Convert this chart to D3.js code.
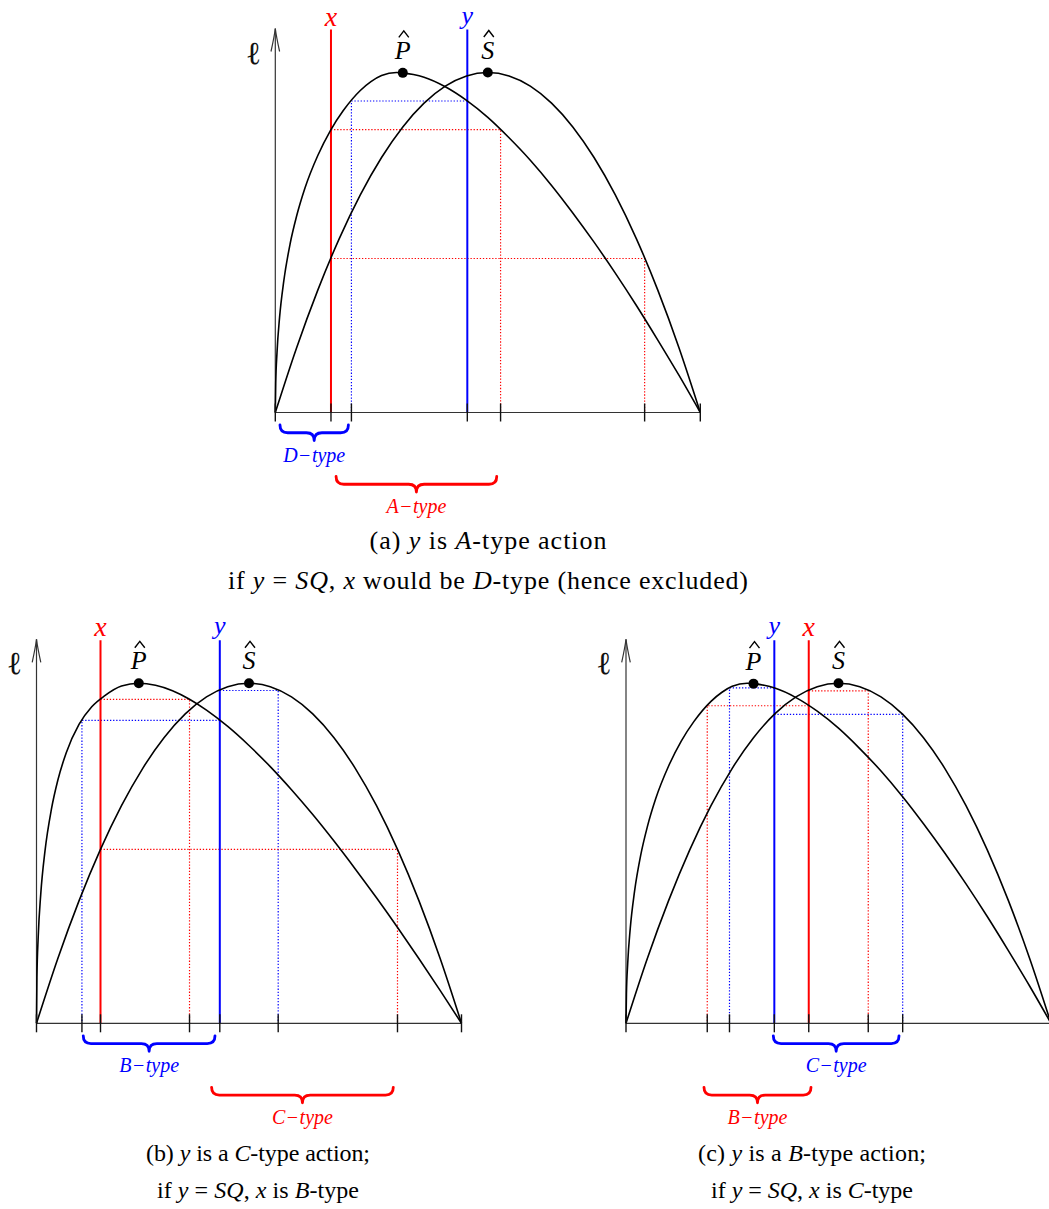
<!DOCTYPE html>
<html>
<head>
<meta charset="utf-8">
<script src="https://cdn.jsdelivr.net/npm/d3@7"></script>
<style>
  html, body { margin: 0; padding: 0; background: #fff; }
  svg { display: block; }
  text { font-family: "Liberation Serif", "DejaVu Serif", serif; }
</style>
</head>
<body>
<svg id="fig" width="1049" height="1209"></svg>
<script>
// ---- curves: [position along the action line, payoff ℓ] (both axes 0..100) ----
// P̂-curve peaking early (panels a and c)
const curvePWide = [[0,0],[0.1,8.5],[0.4,17.6],[1,27.9],[2,38.7],[3.5,49.7],[5,57.7],[7,66.1],[10,75.6],
  [13,83],[16,88.8],[20,94.7],[22.5,97.3],[25,99.1],[28.5,100],[30,99.9],[32.5,99.4],[35,98.6],[40,95.8],
  [45,91.8],[50,86.8],[55,80.8],[60,74.2],[65,66.8],[70,58.7],[75,50.1],[80,41],[85,31.4],[90,21.3],
  [95,10.9],[100,0]];
// P̂-curve peaking even earlier (panel b)
const curvePNarrow = [[0,0],[0.1,13.4],[0.4,25.4],[1,38],[2,50.7],[3.5,62.9],[5,71.4],[7,79.6],[10,87.9],
  [13,93.1],[16,96.3],[20,99.2],[24.07,100],[28,99.4],[32,97.8],[36,95.3],[40,92.1],[45,87.3],[50,81.7],
  [55,75.5],[60,68.7],[65,61.4],[70,53.6],[75,45.4],[80,36.9],[85,28.1],[90,19],[95,9.6],[100,0]];
// Ŝ-curve (same in every panel)
const curveS = [[0,0],[5,19],[10,36],[15,51],[20,64],[25,75],[30,84],[35,91],[40,96],[45,99],[50,100],
  [55,99],[60,96],[65,91],[70,84],[75,75],[80,64],[85,51],[90,36],[95,19],[100,0]];

// ideal points marked on the curves
const peakP = [30, 24.07, 30];
const peakS = [50, 50, 50];

// positions of the two actions in panels a, b, c
const actionX = [13.1, 15.06, 43.0];
const actionY = [45.18, 43.13, 34.9];

const guidesA = [["y", "P"], ["x", "P"], ["x", "S"]];
const guidesB = [["x", "P"], ["y", "P"], ["y", "S"], ["x", "S"]];
const guidesC = [["y", "P"], ["x", "P"], ["x", "S"], ["y", "S"]];

// braces under the axis: [type letter, from, to, colour key, row]
const bracesA = [["D", 1.1, 17.2, "y", 0], ["A", 14.3, 52.1, "x", 1]];
const bracesB = [["B", 11.0, 42.0, "y", 0], ["C", 41.2, 83.95, "x", 1]];
const bracesC = [["C", 34.66, 64.24, "y", 0], ["B", 18.35, 43.53, "x", 1]];

// captions: runs of [text, italic]
const captionA = [
  [["(a) ", 0], ["y", 1], [" is ", 0], ["A", 1], ["-type action", 0]],
  [["if ", 0], ["y", 1], [" = ", 0], ["SQ", 1], [", ", 0], ["x", 1], [" would be ", 0], ["D", 1], ["-type (hence excluded)", 0]]
];
const captionB = [
  [["(b) ", 0], ["y", 1], [" is a ", 0], ["C", 1], ["-type action;", 0]],
  [["if ", 0], ["y", 1], [" = ", 0], ["SQ", 1], [", ", 0], ["x", 1], [" is ", 0], ["B", 1], ["-type", 0]]
];
const captionC = [
  [["(c) ", 0], ["y", 1], [" is a ", 0], ["B", 1], ["-type action;", 0]],
  [["if ", 0], ["y", 1], [" = ", 0], ["SQ", 1], [", ", 0], ["x", 1], [" is ", 0], ["C", 1], ["-type", 0]]
];

// ---- drawing ----
const COL = { x: "#ff0000", y: "#0000ff" };
const PW = 425, PH = 340;
const svg = d3.select("#fig");

const panels = [
  { ox: 275.3, base: 412.5, P: curvePWide,   i: 0, guides: guidesA, braces: bracesA, caption: captionA,
    capX: 488, capY: [549, 589], capSize: 26, capLen: [237, 520] },
  { ox: 36.5,  base: 1023.3, P: curvePNarrow, i: 1, guides: guidesB, braces: bracesB, caption: captionB,
    capX: 258, capY: [1161, 1198], capSize: 24, capLen: [224, 202] },
  { ox: 626,   base: 1023.3, P: curvePWide,   i: 2, guides: guidesC, braces: bracesC, caption: captionC,
    capX: 812, capY: [1161, 1198], capSize: 24, capLen: [228, 202] }
];

function valueAt(curve, u) {
  for (let k = 1; k < curve.length; k++) {
    const [u0, v0] = curve[k - 1], [u1, v1] = curve[k];
    if (u >= u0 && u <= u1) return v0 + (v1 - v0) * (u - u0) / (u1 - u0);
  }
  return 0;
}
// other position where the curve reaches the same level, on the far side of its maximum
function otherCrossing(curve, u, level) {
  const top = curve.reduce((a, b) => (b[1] > a[1] ? b : a))[0];
  const right = u < top;
  for (let k = 1; k < curve.length; k++) {
    const [u0, v0] = curve[k - 1], [u1, v1] = curve[k];
    if (right ? u0 < top : u1 > top) continue;
    if ((v0 - level) * (v1 - level) <= 0 && v0 !== v1) {
      return u0 + (u1 - u0) * (level - v0) / (v1 - v0);
    }
  }
  return u;
}

function braceBelow(x1, x2, y0, amp) {
  const mid = (x1 + x2) / 2, h = amp / 2, r = Math.min(h, (x2 - x1) / 4);
  return `M${x1},${y0} Q${x1},${y0 + h} ${x1 + r},${y0 + h} L${mid - r},${y0 + h} ` +
         `Q${mid},${y0 + h} ${mid},${y0 + amp} Q${mid},${y0 + h} ${mid + r},${y0 + h} ` +
         `L${x2 - r},${y0 + h} Q${x2},${y0 + h} ${x2},${y0}`;
}

function richText(sel, runs) {
  runs.forEach(([t, it]) => {
    sel.append("tspan").text(t).attr("font-style", it ? "italic" : "normal");
  });
}

function hatLabel(g, cx, baseline, letter) {
  g.append("text").attr("x", cx).attr("y", baseline)
    .attr("text-anchor", "middle").attr("font-size", 26).attr("font-style", "italic")
    .attr("fill", "#000").text(letter);
  const hx = cx + 1;
  g.append("path")
    .attr("d", `M${hx - 5},${baseline - 21.5} L${hx},${baseline - 28} L${hx + 5},${baseline - 21.5}`)
    .attr("fill", "none").attr("stroke", "#000").attr("stroke-width", 1.4);
}

panels.forEach(p => {
  const g = svg.append("g");
  const x = d3.scaleLinear().domain([0, 100]).range([p.ox, p.ox + PW]);
  const y = d3.scaleLinear().domain([0, 100]).range([p.base, p.base - PH]);
  const curves = { P: p.P, S: curveS };
  const peaks = { P: peakP[p.i], S: peakS[p.i] };
  const act = { x: actionX[p.i], y: actionY[p.i] };
  const top = p.base - 383;

  // dotted guides
  const tickPos = [0, 100, act.x, act.y];
  p.guides.forEach(([a, c]) => {
    const u = act[a];
    const lvl = valueAt(curves[c], u);
    const u2 = otherCrossing(curves[c], u, lvl);
    tickPos.push(u2);
    g.append("path")
      .attr("d", `M${x(u)},${y(lvl)} L${x(u2)},${y(lvl)} L${x(u2)},${y(0)}`)
      .attr("fill", "none").attr("stroke", COL[a]).attr("stroke-width", 1.2)
      .attr("stroke-dasharray", "1.3,1.8");
  });

  // action lines
  ["x", "y"].forEach(a => {
    g.append("line")
      .attr("x1", x(act[a])).attr("x2", x(act[a]))
      .attr("y1", y(0)).attr("y2", top)
      .attr("stroke", COL[a]).attr("stroke-width", 2);
    g.append("text")
      .attr("x", x(act[a])).attr("y", a === "x" ? top - 4 : top - 6)
      .attr("text-anchor", "middle").attr("font-size", a === "x" ? 28 : 26).attr("font-style", "italic")
      .attr("fill", COL[a]).text(a);
  });

  // axes
  g.append("line").attr("x1", x(0)).attr("x2", x(100)).attr("y1", y(0)).attr("y2", y(0))
    .attr("stroke", "#333").attr("stroke-width", 1.2);
  const tipY = p.base - 384;
  g.append("line").attr("x1", x(0)).attr("x2", x(0)).attr("y1", y(0)).attr("y2", tipY)
    .attr("stroke", "#333").attr("stroke-width", 1.2);
  g.append("path")
    .attr("d", `M${x(0) - 4.3},${tipY + 23} Q${x(0) - 1},${tipY + 8} ${x(0)},${tipY} Q${x(0) + 1},${tipY + 8} ${x(0) + 4.3},${tipY + 23}`)
    .attr("fill", "none").attr("stroke", "#333").attr("stroke-width", 1.2);
  g.append("text").attr("x", x(0) - 22).attr("y", p.base - 349)
    .attr("text-anchor", "middle").attr("font-size", 32)
    .attr("font-family", "Liberation Serif").attr("fill", "#111").text("ℓ");

  // curves
  const line = d3.line().x(d => x(d[0])).y(d => y(d[1])).curve(d3.curveMonotoneX);
  ["P", "S"].forEach(c => {
    g.append("path").datum(curves[c]).attr("d", line)
      .attr("fill", "none").attr("stroke", "#000").attr("stroke-width", 1.6);
  });

  // ticks
  tickPos.forEach(u => {
    g.append("line").attr("x1", x(u)).attr("x2", x(u))
      .attr("y1", y(0) - 9).attr("y2", y(0) + 9)
      .attr("stroke", "#111").attr("stroke-width", 1.4);
  });

  // marked points and their labels
  [["P", peaks.P], ["S", peaks.S]].forEach(([c, u]) => {
    const v = valueAt(curves[c], u);
    g.append("circle").attr("cx", x(u)).attr("cy", y(v)).attr("r", 5).attr("fill", "#000");
    hatLabel(g, x(u), y(v) - 14, c);
  });

  // braces
  p.braces.forEach(([letter, u1, u2, colKey, row]) => {
    const y0 = p.base + (row === 0 ? 12.5 : 64);
    g.append("path").attr("d", braceBelow(x(u1), x(u2), y0, 15.5))
      .attr("fill", "none").attr("stroke", COL[colKey]).attr("stroke-width", 2.8)
      .attr("stroke-linecap", "round").attr("stroke-linejoin", "round");
    const t = g.append("text").attr("x", (x(u1) + x(u2)) / 2)
      .attr("y", p.base + (row === 0 ? 49 : 100.5))
      .attr("text-anchor", "middle").attr("font-size", 20).attr("fill", COL[colKey]);
    t.append("tspan").attr("font-style", "italic").text(letter);
    t.append("tspan").attr("dx", 1.5).text("−");
    t.append("tspan").attr("dx", 1.5).attr("font-style", "italic").text("type");
  });

  // caption
  p.caption.forEach((runs, k) => {
    const t = svg.append("text").attr("x", p.capX).attr("y", p.capY[k])
      .attr("text-anchor", "middle").attr("font-size", p.capSize).attr("fill", "#000")
      .attr("textLength", p.capLen[k]).attr("lengthAdjust", "spacing");
    richText(t, runs);
  });
});
</script>
</body>
</html>
